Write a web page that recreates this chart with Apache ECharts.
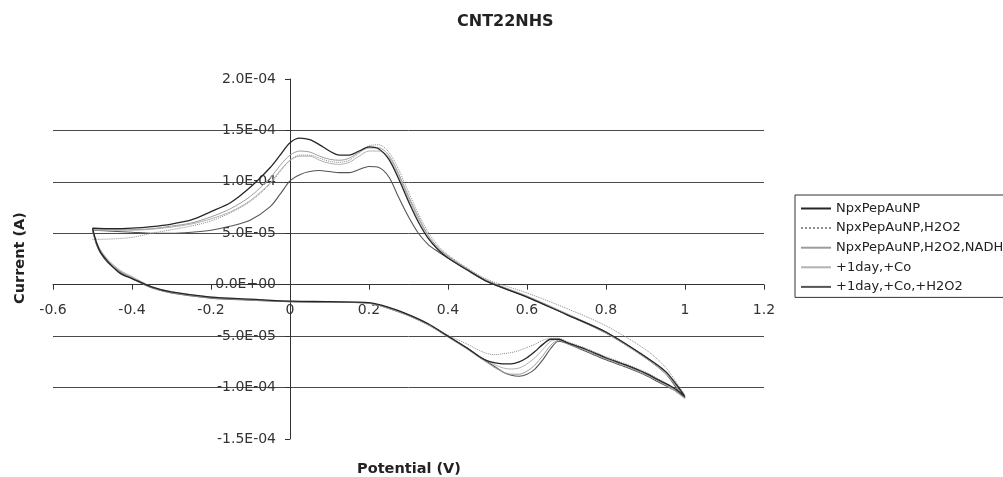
<!DOCTYPE html>
<html>
<head>
<meta charset="utf-8">
<title>CNT22NHS</title>
<script src="https://cdn.jsdelivr.net/npm/echarts@6/dist/echarts.min.js"></script>
<style>
  html, body { margin: 0; padding: 0; background: #fff; }
  #chart { width: 1003px; height: 477px; }
</style>
</head>
<body>
<div id="chart"></div>
<script>
// Cyclic voltammograms, currents in units of 1e-5 A.
// Anodic sweep (-0.5 V -> 1.0 V) and cathodic sweep (1.0 V -> -0.5 V).
const potentialFwd = [-0.5, -0.45, -0.4, -0.35, -0.3, -0.25, -0.2, -0.15, -0.1, -0.05, -0.025, 0, 0.025, 0.05, 0.075, 0.1, 0.125, 0.15, 0.175, 0.2, 0.225, 0.25, 0.275, 0.3, 0.325, 0.35, 0.375, 0.4, 0.45, 0.5, 0.6, 0.7, 0.8, 0.9, 0.95, 0.98, 1.0];
const potentialRev = [0.97, 0.93, 0.9, 0.85, 0.8, 0.75, 0.7, 0.68, 0.66, 0.64, 0.62, 0.6, 0.58, 0.56, 0.54, 0.52, 0.5, 0.48, 0.45, 0.4, 0.35, 0.3, 0.25, 0.2, 0.1, 0, -0.1, -0.2, -0.3, -0.35, -0.4, -0.43, -0.46, -0.48, -0.49, -0.5];

const seriesNames = ['NpxPepAuNP', 'NpxPepAuNP,H2O2', 'NpxPepAuNP,H2O2,NADH', '+1day,+Co', '+1day,+Co,+H2O2'];

const npxFwd = [5.5, 5.45, 5.5, 5.65, 5.9, 6.3, 7.1, 8.0, 9.5, 11.4, 12.6, 13.8, 14.25, 14.1, 13.6, 13.0, 12.6, 12.6, 13.0, 13.4, 13.2, 12.2, 10.3, 8.1, 6.1, 4.5, 3.4, 2.6, 1.4, 0.3, -1.2, -2.9, -4.6, -7.0, -8.4, -9.8, -10.9];
const npxRev = [-10.0, -9.2, -8.6, -7.8, -7.1, -6.3, -5.6, -5.3, -5.3, -5.8, -6.5, -7.1, -7.5, -7.7, -7.7, -7.6, -7.4, -7.0, -6.2, -5.0, -3.8, -2.9, -2.2, -1.75, -1.65, -1.6, -1.4, -1.2, -0.7, -0.2, 0.6, 1.1, 2.2, 3.2, 4.1, 5.5];

const h2o2Fwd = [4.4, 4.45, 4.6, 5.0, 5.35, 5.7, 6.2, 7.0, 8.1, 9.8, 11.0, 12.1, 12.6, 12.6, 12.3, 12.0, 11.9, 12.1, 12.8, 13.5, 13.6, 12.9, 11.2, 9.0, 6.9, 5.1, 3.8, 2.9, 1.6, 0.5, -0.8, -2.3, -4.0, -6.3, -8.0, -9.6, -10.7];
const h2o2Rev = [-10.0, -9.1, -8.5, -7.7, -7.0, -6.2, -5.5, -5.2, -5.2, -5.4, -5.8, -6.1, -6.4, -6.6, -6.7, -6.8, -6.7, -6.4, -5.8, -4.9, -3.8, -2.9, -2.2, -1.8, -1.7, -1.6, -1.5, -1.3, -0.8, -0.3, 0.6, 1.3, 2.2, 3.2, 4.0, 5.4];

const nadhFwd = [5.4, 5.35, 5.35, 5.45, 5.7, 6.0, 6.6, 7.4, 8.6, 10.4, 11.6, 12.6, 13.0, 12.9, 12.5, 12.2, 12.1, 12.3, 12.9, 13.3, 13.3, 12.6, 10.8, 8.6, 6.6, 4.8, 3.6, 2.8, 1.5, 0.4, -1.1, -2.8, -4.6, -7.0, -8.5, -9.9, -11.0];
const nadhRev = [-10.1, -9.3, -8.7, -7.9, -7.2, -6.4, -5.7, -5.4, -5.9, -6.9, -7.8, -8.4, -8.7, -8.7, -8.5, -8.1, -7.6, -7.1, -6.3, -5.1, -3.9, -3.0, -2.3, -1.8, -1.7, -1.65, -1.45, -1.25, -0.75, -0.25, 0.7, 1.3, 2.3, 3.3, 4.1, 5.4];

const coFwd = [5.3, 5.3, 5.3, 5.4, 5.6, 5.9, 6.4, 7.1, 8.2, 9.9, 11.1, 12.1, 12.5, 12.5, 12.1, 11.8, 11.7, 11.9, 12.5, 13.0, 13.0, 12.4, 10.6, 8.4, 6.4, 4.7, 3.5, 2.7, 1.5, 0.3, -1.2, -2.9, -4.7, -7.1, -8.6, -10.0, -11.1];
const coRev = [-10.2, -9.3, -8.7, -7.9, -7.2, -6.4, -5.6, -5.3, -5.5, -6.3, -7.1, -7.7, -8.1, -8.2, -8.1, -7.8, -7.4, -7.0, -6.2, -5.0, -3.9, -3.0, -2.3, -1.8, -1.7, -1.6, -1.45, -1.2, -0.7, -0.2, 0.8, 1.4, 2.4, 3.4, 4.2, 5.3];

const coH2o2Fwd = [5.3, 5.2, 5.1, 5.0, 5.0, 5.1, 5.3, 5.7, 6.3, 7.6, 8.8, 10.1, 10.7, 11.0, 11.1, 11.0, 10.9, 10.9, 11.2, 11.5, 11.4, 10.5, 8.5, 6.6, 5.0, 3.9, 3.2, 2.6, 1.4, 0.3, -1.2, -2.9, -4.7, -7.1, -8.6, -10.1, -11.0];
const coH2o2Rev = [-10.2, -9.4, -8.8, -8.0, -7.3, -6.5, -5.7, -5.5, -6.2, -7.3, -8.2, -8.7, -8.9, -8.8, -8.5, -8.0, -7.5, -7.0, -6.2, -5.0, -3.9, -3.0, -2.3, -1.8, -1.7, -1.65, -1.5, -1.3, -0.8, -0.3, 0.6, 1.2, 2.1, 3.1, 3.9, 5.3];

const yTicks = { min: -1.5e-4, max: 2.0e-4, interval: 5e-5 };
const xTicks = { min: -0.6, max: 1.2, interval: 0.2 };

// Join both sweeps into one closed loop of [potential (V), current (A)] pairs.
function cvLoop(fwd, rev) {
  const pts = [];
  potentialFwd.forEach((x, i) => pts.push([x, fwd[i] * 1e-5]));
  potentialRev.forEach((x, i) => pts.push([x, rev[i] * 1e-5]));
  return pts;
}

// Scientific labels such as 1.5E-04 and 0.0E+00.
function sciLabel(v) {
  if (Math.abs(v) < 1e-12) return '0.0E+00';
  const parts = v.toExponential(1).split('e');
  const exp = parts[1];
  return parts[0] + 'E' + exp[0] + exp.slice(1).padStart(2, '0');
}

const styles = [
  { color: '#262626', width: 1.3, type: 'solid' },
  { color: '#8c8c8c', width: 1, type: 'dotted' },
  { color: '#9c9c9c', width: 1, type: 'solid' },
  { color: '#b2b2b2', width: 1, type: 'solid' },
  { color: '#555555', width: 1.1, type: 'solid' }
];
const loops = [
  cvLoop(npxFwd, npxRev),
  cvLoop(h2o2Fwd, h2o2Rev),
  cvLoop(nadhFwd, nadhRev),
  cvLoop(coFwd, coRev),
  cvLoop(coH2o2Fwd, coH2o2Rev)
];

// Plot box; the axes cross at the origin inside it.
const plot = { left: 53, right: 239, top: 79, bottom: 38, width: 711, height: 360 };
const xZeroShift = plot.width * (0 - xTicks.min) / (xTicks.max - xTicks.min);
const yZeroShift = plot.height * (0 - yTicks.min) / (yTicks.max - yTicks.min);

const font = 'DejaVu Sans';
const chart = echarts.init(document.getElementById('chart'), null, { renderer: 'canvas' });

chart.setOption({
  animation: false,
  backgroundColor: '#ffffff',
  grid: { left: plot.left, right: plot.right, top: plot.top, bottom: plot.bottom, outerBoundsMode: 'none' },
  xAxis: {
    type: 'value',
    position: 'bottom',
    offset: -yZeroShift,
    min: xTicks.min, max: xTicks.max, interval: xTicks.interval,
    axisLine: { onZero: false, lineStyle: { color: '#333', width: 1 } },
    axisTick: { show: true, length: 5, lineStyle: { color: '#333' } },
    axisLabel: { color: '#333', fontFamily: font, fontSize: 14, margin: 19 },
    splitLine: { show: false }
  },
  yAxis: {
    type: 'value',
    position: 'left',
    offset: -xZeroShift,
    min: yTicks.min, max: yTicks.max, interval: yTicks.interval,
    axisLine: { show: true, onZero: false, lineStyle: { color: '#333', width: 1 } },
    axisTick: { show: true, length: 5, lineStyle: { color: '#333' } },
    axisLabel: { color: '#333', fontFamily: font, fontSize: 14, margin: 14, formatter: sciLabel },
    splitLine: { show: true, showMinLine: false, showMaxLine: false, lineStyle: { color: '#4a4a4a', width: 1 } }
  },
  legend: {
    orient: 'vertical',
    left: 795, top: 195,
    itemWidth: 30, itemHeight: 14, itemGap: 6.6,
    padding: [7, 20, 4, 5],
    borderColor: '#333', borderWidth: 1,
    backgroundColor: '#fff',
    itemStyle: { opacity: 0 },
    textStyle: { fontFamily: font, fontSize: 13, color: '#222' },
    data: seriesNames
  },
  graphic: [
    { type: 'text', left: 457, top: 14, style: { text: 'CNT22NHS', font: 'bold 16px "DejaVu Sans"', fill: '#222' } },
    { type: 'text', x: 409, y: 469, style: { text: 'Potential (V)', font: 'bold 14.5px "DejaVu Sans"', fill: '#222', align: 'center', verticalAlign: 'middle' } },
    { type: 'text', x: 20, y: 258, rotation: Math.PI / 2, style: { text: 'Current (A)', font: 'bold 14.5px "DejaVu Sans"', fill: '#222', align: 'center', verticalAlign: 'middle' } }
  ],
  series: seriesNames.map((name, i) => ({
    name: name,
    type: 'line',
    data: loops[i],
    symbol: 'none',
    smooth: 0.3,
    lineStyle: styles[i],
    itemStyle: { color: styles[i].color },
    z: 5 - i
  }))
});
</script>
</body>
</html>
